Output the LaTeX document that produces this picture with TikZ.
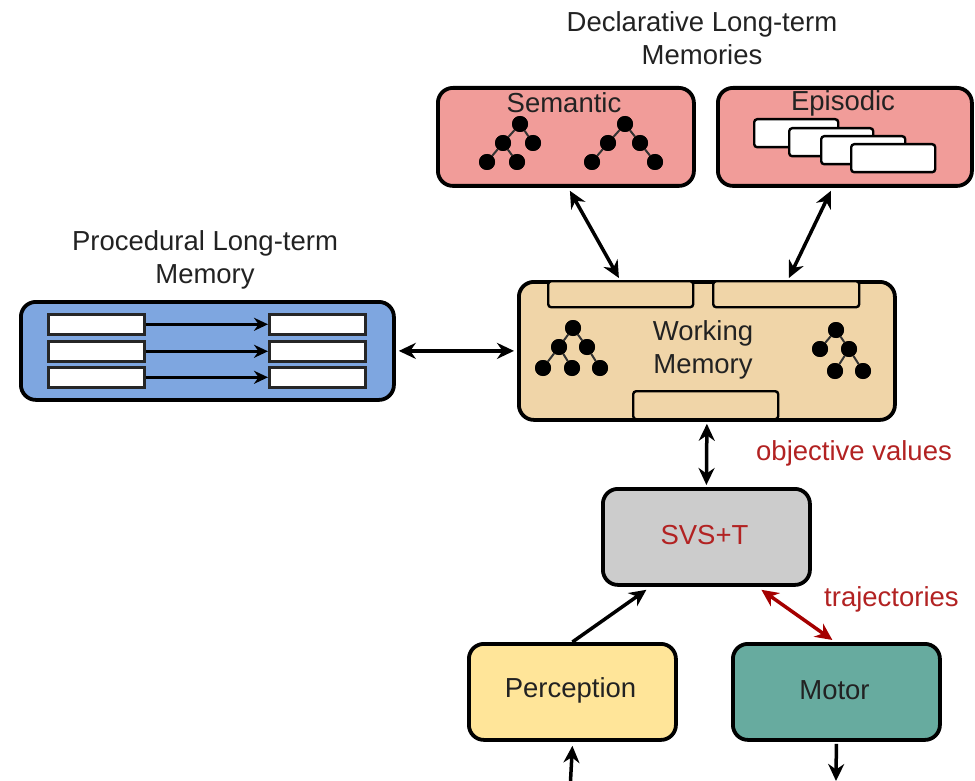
\documentclass[tikz,border=0pt]{standalone}
\usepackage{fontspec}
\setmainfont{Liberation Sans}
\usetikzlibrary{arrows.meta,positioning,calc}

\definecolor{semfill}{HTML}{F19C99}
\definecolor{procfill}{HTML}{7EA6E0}
\definecolor{wmfill}{HTML}{F0D5A8}
\definecolor{svsfill}{HTML}{CCCCCC}
\definecolor{percfill}{HTML}{FFE599}
\definecolor{motorfill}{HTML}{67AB9F}
\definecolor{redtext}{HTML}{B22222}
\definecolor{redline}{HTML}{A50000}
\definecolor{txt}{HTML}{222222}

\tikzset{
  box/.style={draw=black, line width=3.8pt, rounded corners=15pt, inner sep=0pt, anchor=north west},
  slot/.style={draw=black, line width=2.4pt, rounded corners=3pt, fill=wmfill, inner sep=0pt, anchor=north west},
  card/.style={draw=black, line width=2.4pt, rounded corners=3pt, fill=white, inner sep=0pt, anchor=north west},
  rule/.style={draw=black!85, line width=2.6pt, fill=white, inner sep=0pt, anchor=north west, minimum width=96pt, minimum height=20pt},
  lbl/.style={text=txt, align=center, inner sep=0pt},
  dot/.style={circle, fill=black, inner sep=0pt, minimum size=16pt},
  edge/.style={draw=black!80, line width=2pt},
  conn/.style={line width=3.5pt, -{Stealth[length=17pt,width=16pt]}},
  dbl/.style={line width=3.5pt, {Stealth[length=17pt,width=16pt]}-{Stealth[length=17pt,width=16pt]}},
  smallarr/.style={line width=2.5pt, -{Stealth[length=14pt,width=13pt]}},
}

\begin{document}
\begin{tikzpicture}[x=1pt, y=-1pt, font=\fontsize{27.5}{33}\selectfont]
\useasboundingbox (0,0) rectangle (975,781);

% ---- declarative long-term memories ----
\node[lbl] (decltitle) at (702,38) {Declarative Long-term\\Memories};

\node[box, fill=semfill, minimum width=256pt, minimum height=98pt] (sem) at (436,86) {};
\node[lbl] (semtext) at (564,103) {Semantic};
\node[box, fill=semfill, minimum width=254pt, minimum height=98pt] (epi) at (716,86) {};
\node[lbl] (epitext) at (843,103) {Episodic};

% semantic trees
\node[dot] (sa) at (520,124) {};
\node[dot] (sb) at (503,143) {};
\node[dot] (sc) at (533,143) {};
\node[dot] (sd) at (487,162) {};
\node[dot] (se) at (517,162) {};
\draw[edge] (sa) -- (sb) (sa) -- (sc) (sb) -- (sd) (sb) -- (se);
\node[dot] (ta) at (625,124) {};
\node[dot] (tb) at (608,143) {};
\node[dot] (tc) at (640,143) {};
\node[dot] (td) at (592,162) {};
\node[dot] (te) at (655,162) {};
\draw[edge] (ta) -- (tb) (ta) -- (tc) (tb) -- (td) (tc) -- (te);
\foreach \n in {sa,sb,sc,sd,se,ta,tb,tc,td,te} \node[dot] at (\n) {};

% episodic cards
\node[card, minimum width=84pt, minimum height=28pt] (ep1) at (753,118) {};
\node[card, minimum width=84pt, minimum height=28pt] (ep2) at (788,127) {};
\node[card, minimum width=84pt, minimum height=28pt] (ep3) at (820,135) {};
\node[card, minimum width=84pt, minimum height=28pt] (ep4) at (850,143) {};

% ---- procedural long-term memory ----
\node[lbl] (proctitle) at (205,260) {Procedural Long-term\\Memory};
\node[box, fill=procfill, minimum width=373pt, minimum height=98pt] (proc) at (19,300) {};
\node[rule] (r1) at (47,313) {};
\node[rule] (r2) at (47,340) {};
\node[rule] (r3) at (47,366) {};
\node[rule] (q1) at (268,313) {};
\node[rule] (q2) at (268,340) {};
\node[rule] (q3) at (268,366) {};
\draw[smallarr] (r1) -- (q1);
\draw[smallarr] (r2) -- (q2);
\draw[smallarr] (r3) -- (q3);

% ---- working memory ----
\node[box, fill=wmfill, minimum width=376pt, minimum height=138pt] (wm) at (517,280) {};
\node[slot, minimum width=145pt, minimum height=26pt] (wmslotA) at (547,280) {};
\node[slot, minimum width=146pt, minimum height=26pt] (wmslotB) at (712,280) {};
\node[slot, minimum width=145pt, minimum height=28pt] (wmslotC) at (632,390) {};
\node[lbl] (wmtext) at (703,350) {Working\\Memory};

% working memory trees
\node[dot] (wa) at (573,328) {};
\node[dot] (wb) at (559,347) {};
\node[dot] (wc) at (587,347) {};
\node[dot] (wd) at (543,368) {};
\node[dot] (we) at (572,368) {};
\node[dot] (wf) at (600,368) {};
\draw[edge] (wa) -- (wb) (wa) -- (wc) (wb) -- (wd) (wb) -- (we) (wc) -- (wf);
\node[dot] (va) at (836,330) {};
\node[dot] (vb) at (820,349) {};
\node[dot] (vc) at (849,349) {};
\node[dot] (vd) at (835,371) {};
\node[dot] (ve) at (863,371) {};
\draw[edge] (va) -- (vb) (va) -- (vc) (vc) -- (vd) (vc) -- (ve);
\foreach \n in {wa,wb,wc,wd,we,wf,va,vb,vc,vd,ve} \node[dot] at (\n) {};

% ---- SVS+T, perception, motor ----
\node[box, fill=svsfill, minimum width=207pt, minimum height=96pt] (svs) at (601,487) {};
\node[lbl, text=redtext] (svstext) at (704.5,535) {SVS+T};
\node[box, fill=percfill, minimum width=207pt, minimum height=96pt] (perc) at (467,642) {};
\node[lbl] (perctext) at (570.5,690) {Perception};
\node[box, fill=motorfill, minimum width=207pt, minimum height=96pt] (motor) at (731,642) {};
\node[lbl] (motortext) at (834.5,690) {Motor};

\node[lbl, text=redtext, anchor=west] (objlbl) at (756,453) {objective values};
\node[lbl, text=redtext, anchor=west] (trajlbl) at (824,599) {trajectories};

\coordinate (percin) at (570.5,781);
\coordinate (motorout) at (836,781);

% ---- connectors ----
\draw[dbl] ([xshift=4pt,yshift=-3pt]sem.south) -- ([xshift=-88pt,yshift=2pt]wm.north);
\draw[dbl] ([xshift=-14pt,yshift=-3pt]epi.south) -- ([xshift=82pt,yshift=2pt]wm.north);
\draw[dbl] ([xshift=3pt]proc.east) -- ([xshift=-3pt]wm.west);
\draw[dbl] ([yshift=-2pt]wm.south) -- ([yshift=2pt]svs.north);
\draw[conn] (perc.north) -- ([xshift=-60pt,yshift=-3pt]svs.south);
\draw[dbl, redline] ([xshift=55pt,yshift=-3pt]svs.south) -- ([xshift=-4pt,yshift=2pt]motor.north);
\draw[conn] (percin) -- ([yshift=-4pt]perc.south);
\draw[conn] ([yshift=-2pt]motor.south) -- (motorout);
\end{tikzpicture}
\end{document}
